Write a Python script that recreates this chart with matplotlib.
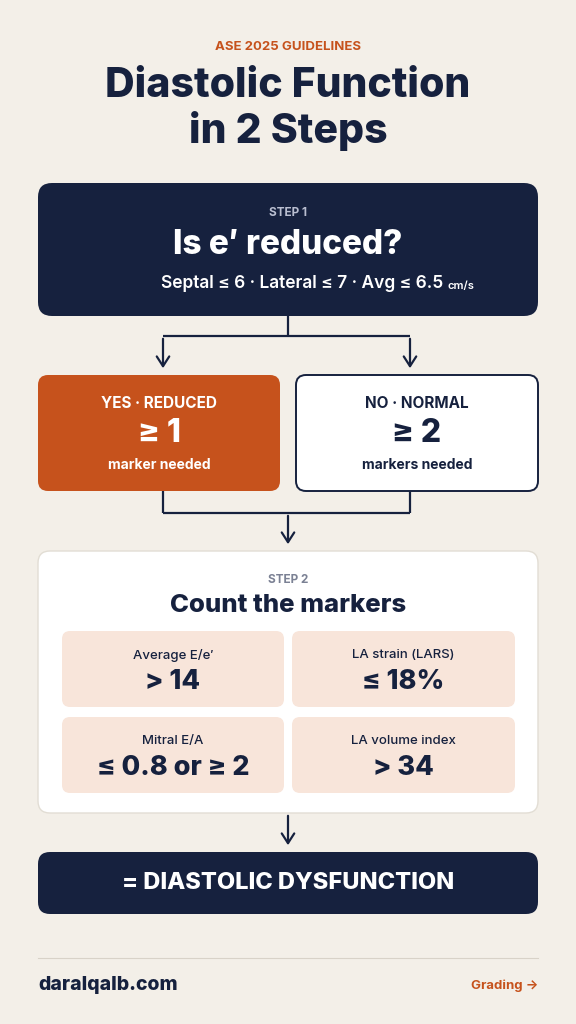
import matplotlib
matplotlib.use("Agg")
import matplotlib.pyplot as plt
from matplotlib.patches import FancyBboxPatch

plt.rcParams['font.family'] = ['Inter', 'DejaVu Sans']

BG = "#F3EFE8"; NAVY = "#16213E"; ORANGE = "#C6521C"; PEACH = "#F8E5DA"; GRAY = "#B9BED0"

kicker = "ASE 2025 GUIDELINES"
title_lines = ["Diastolic Function", "in 2 Steps"]
step1 = ["STEP 1", "Is e′ reduced?", "Septal ≤ 6 · Lateral ≤ 7 · Avg ≤ 6.5"]
branch_heads = ["YES · REDUCED", "NO · NORMAL"]
branch_vals = ["≥ 1", "≥ 2"]
branch_subs = ["marker needed", "markers needed"]
step2 = ["STEP 2", "Count the markers"]
marker_labels = ["Average E/e′", "LA strain (LARS)", "Mitral E/A", "LA volume index"]
marker_vals = ["> 14", "≤ 18%", "≤ 0.8 or ≥ 2", "> 34"]
result = "= DIASTOLIC DYSFUNCTION"
footer = ["daralqalb.com", "Grading →"]

fig = plt.figure(figsize=(5.76, 10.24), dpi=100, facecolor=BG)
ax = fig.add_axes([0, 0, 1, 1]); ax.set_xlim(0, 576); ax.set_ylim(1024, 0); ax.axis('off')

def box(x0, y0, x1, y1, fc, ec=None, lw=0, r=12):
    ax.add_patch(FancyBboxPatch((x0 + r, y0 + r), x1 - x0 - 2 * r, y1 - y0 - 2 * r,
                                boxstyle=f"round,pad={r}", fc=fc, ec=ec or fc, lw=lw))

def t(x, y, s, size, color=NAVY, weight='bold', ha='center'):
    ax.text(x, y, s, fontsize=size, color=color, fontweight=weight, ha=ha, va='center')

def line(xs, ys, lw=1.6):
    ax.plot(xs, ys, color=NAVY, lw=lw, solid_capstyle='butt')

def arrow(x, y0, y1):
    ax.annotate("", xy=(x, y1), xytext=(x, y0),
                arrowprops=dict(arrowstyle="->,head_length=0.7,head_width=0.45",
                                color=NAVY, lw=1.6))

t(288, 47, kicker, 9.5, ORANGE)
t(288, 86, title_lines[0], 29.5, NAVY, 'heavy')
t(288, 131, title_lines[1], 29.5, NAVY, 'heavy')

box(38, 183, 538, 316, NAVY, r=14)
t(288, 213, step1[0], 8.5, GRAY)
t(288, 245, step1[1], 24, 'white', 'heavy')
ax.text(443, 284, step1[2], fontsize=12.5, color='white', fontweight='semibold', ha='right', va='center')
ax.text(448, 286, "cm/s", fontsize=8, color='white', fontweight='semibold', ha='left', va='center')

line([288, 288], [316, 336]); line([163, 410], [336, 336])
arrow(163, 336, 371); arrow(410, 336, 371)

box(38, 375, 280, 491, ORANGE, r=10)
box(296, 375, 538, 491, 'white', NAVY, 1.4, r=10)
for i, cx in enumerate([159, 417]):
    c = 'white' if i == 0 else NAVY
    t(cx, 404, branch_heads[i], 11, c)
    t(cx, 434, branch_vals[i], 23, c, 'heavy')
    t(cx, 465, branch_subs[i], 10, c)

line([163, 163], [491, 513]); line([410, 410], [491, 513]); line([163, 410], [513, 513])
arrow(288, 513, 547)

box(38, 551, 538, 813, 'white', "#E2DDD4", 1.0, r=12)
t(288, 580, step2[0], 8.5, "#7B8194")
t(288, 606, step2[1], 18.5, NAVY, 'heavy')
cells = [(62, 631, 284, 707), (292, 631, 515, 707), (62, 717, 284, 793), (292, 717, 515, 793)]
for (x0, y0, x1, y1), lab, val in zip(cells, marker_labels, marker_vals):
    box(x0, y0, x1, y1, PEACH, r=8)
    t((x0 + x1) / 2, y0 + 24, lab, 9.5, NAVY, 'medium')
    t((x0 + x1) / 2, y0 + 51, val, 19.5, NAVY, 'heavy')

arrow(288, 813, 848)
box(38, 852, 538, 914, NAVY, r=12)
t(288, 883, result, 17, 'white', 'heavy')

ax.plot([38, 538], [958, 958], color="#D8D2C8", lw=0.8)
t(38, 985, footer[0], 14, NAVY, 'heavy', ha='left')
t(538, 986, footer[1], 9.5, ORANGE, 'bold', ha='right')

fig.savefig("out.png", dpi=100, facecolor=BG)
